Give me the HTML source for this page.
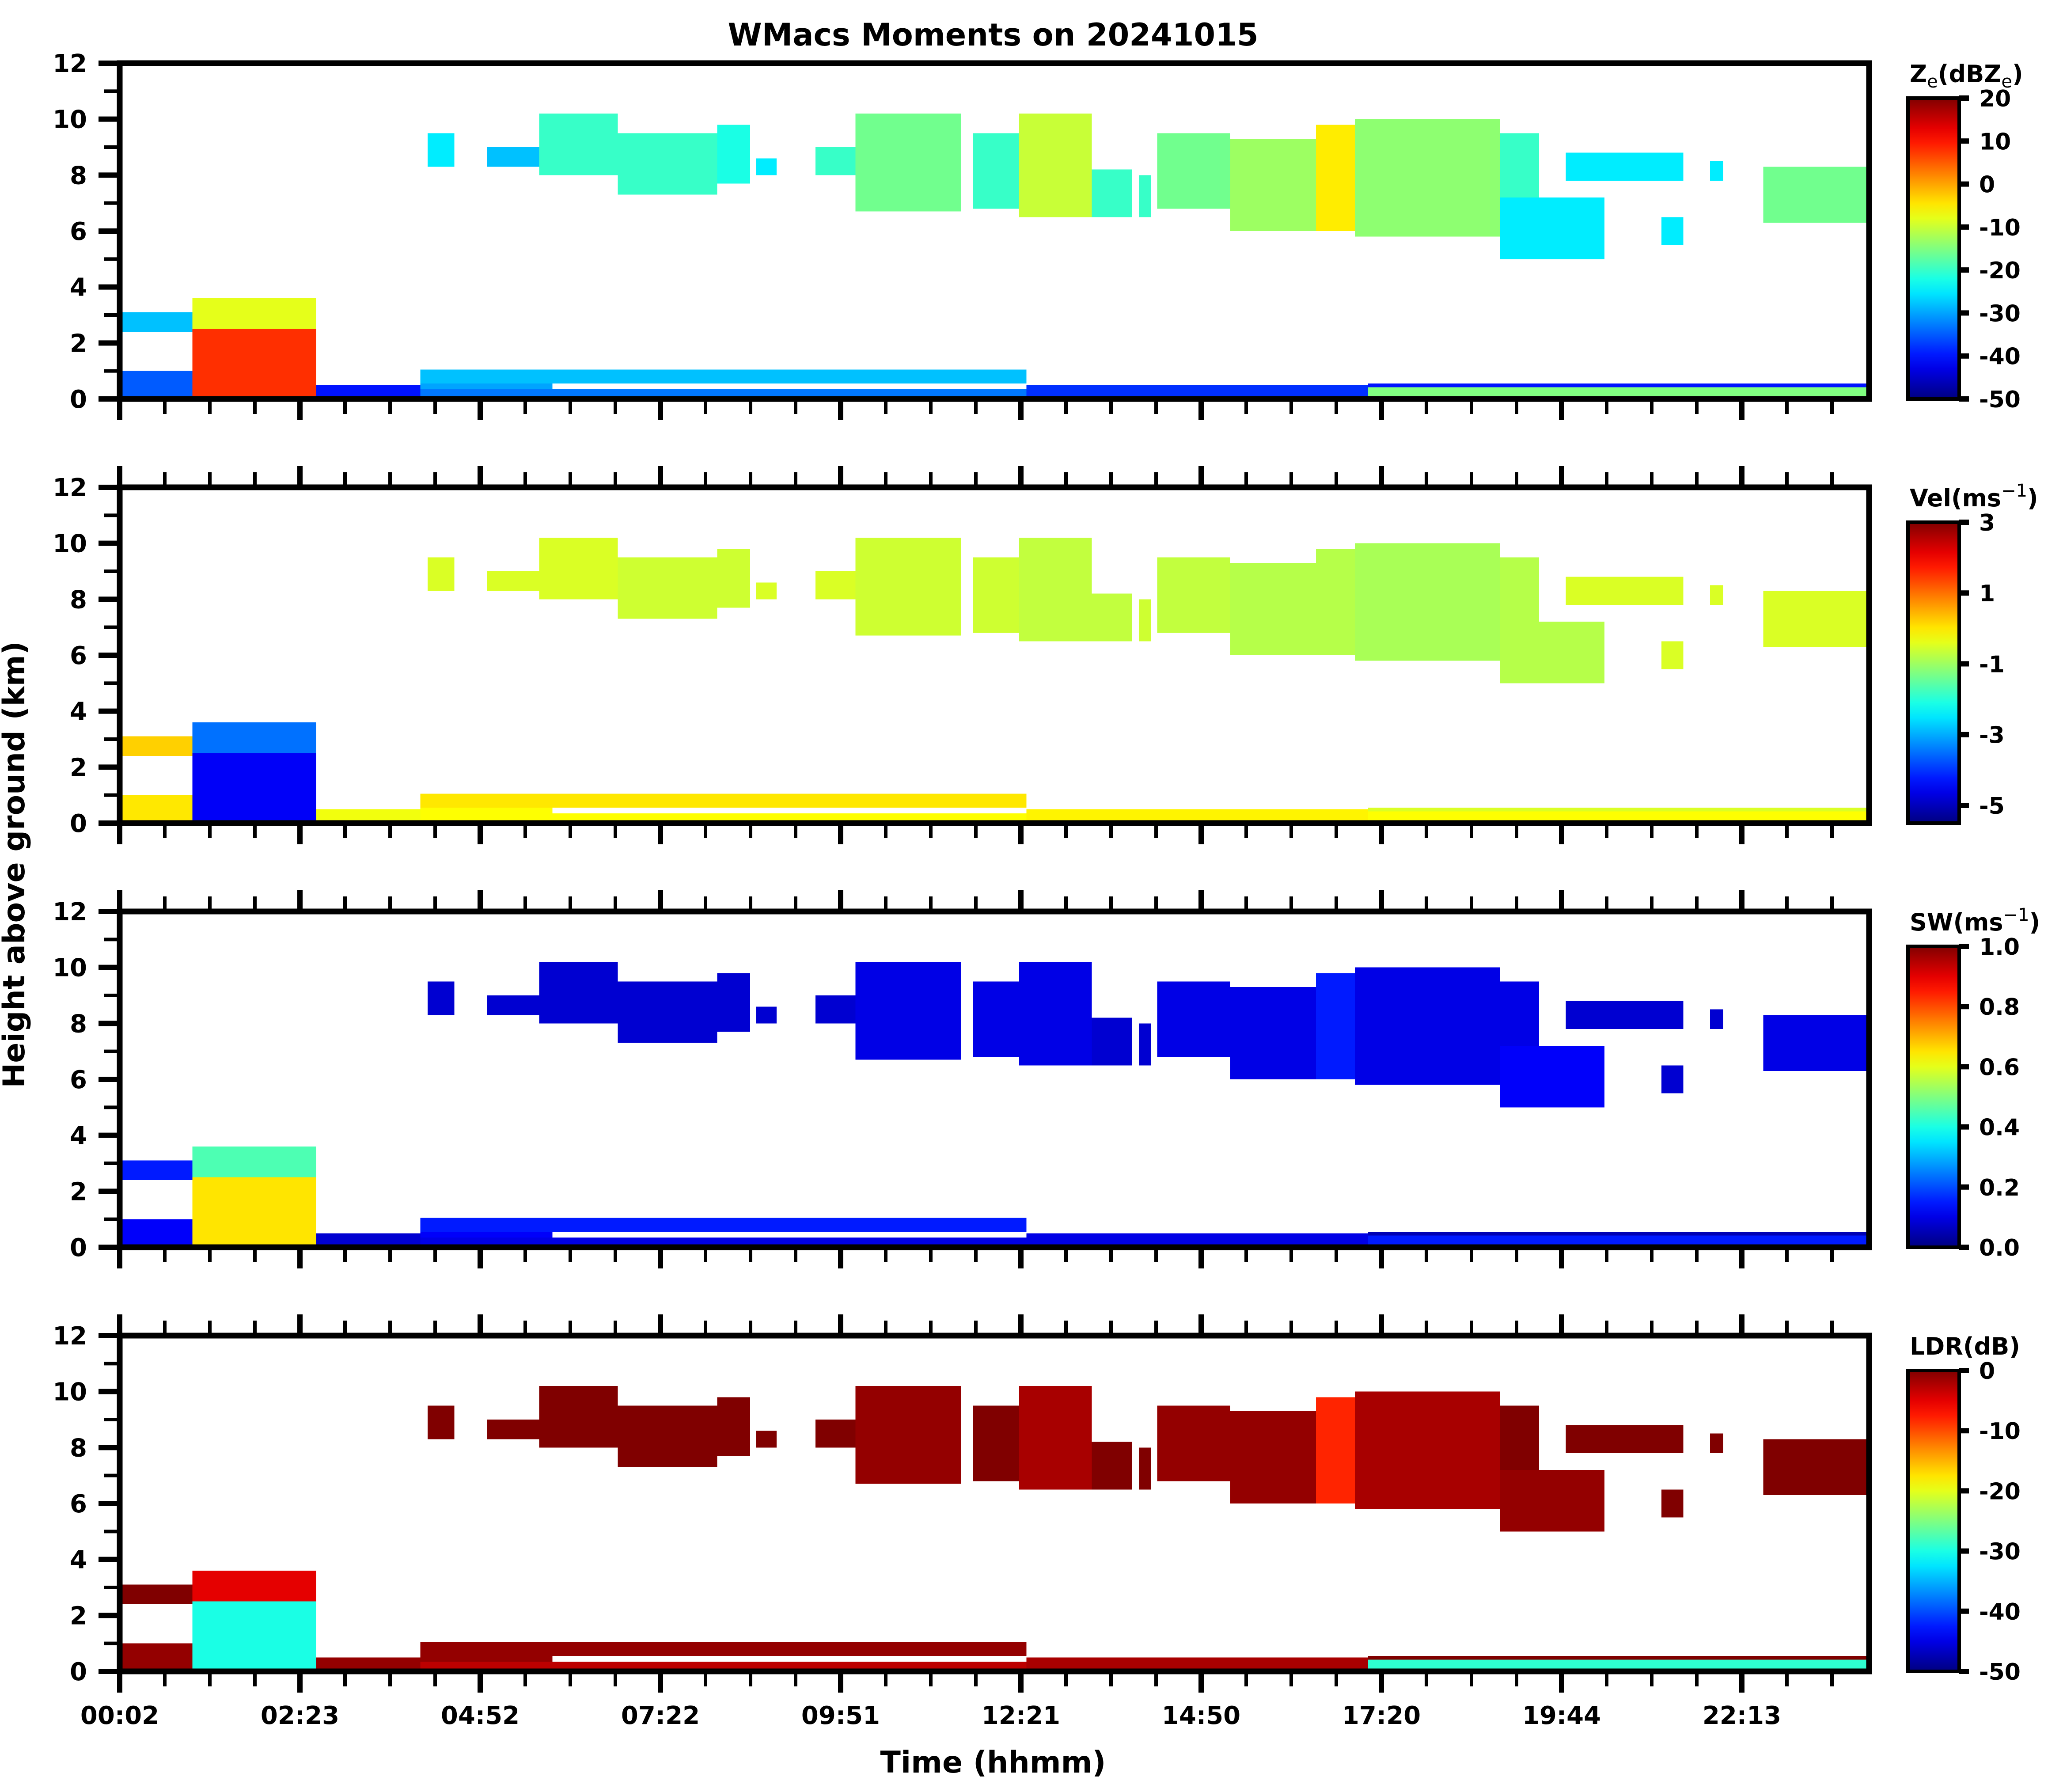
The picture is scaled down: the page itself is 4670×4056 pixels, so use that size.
<!DOCTYPE html>
<html><head><meta charset="utf-8"><style>
html,body{margin:0;padding:0;background:#fff;}
svg{display:block;font-family:"DejaVu Sans","Liberation Sans",sans-serif;font-weight:bold;}
</style></head><body>
<svg id="fig" xmlns="http://www.w3.org/2000/svg" width="4670" height="4056" viewBox="0 0 4670 4056">
<rect width="4670" height="4056" fill="#fff"/>
<text x="2248" y="103" font-size="70" text-anchor="middle">WMacs Moments on 20241015</text>
<text x="2248" y="4012" font-size="68" text-anchor="middle">Time (hhmm)</text>
<text transform="translate(55,1957) rotate(-90)" font-size="68" text-anchor="middle">Height above ground (km)</text>
<g id="plots"></g>
</svg>
<script>
// ---- data (time in minutes, height in km) ----
const cloudT0   = [4, 4, 62, 62, 164, 250, 250, 250, 750, 1032, 1032, 256, 305, 348, 413, 495, 527, 576, 609, 706, 744, 804, 843, 858, 918, 989, 1021, 1141, 1141, 1195, 1274, 1314, 1358];
const cloudT1   = [62, 62, 164, 164, 250, 750, 750, 359, 1032, 1444, 1444, 278, 348, 413, 495, 522, 544, 609, 696, 744, 804, 837, 853, 918, 989, 1021, 1141, 1173, 1227, 1292, 1292, 1325, 1444];
const cloudBase = [0, 2.4, 0, 2.5, 0, 0.55, 0, 0.35, 0, 0, 0.42, 8.3, 8.3, 8.0, 7.3, 7.7, 8.0, 8.0, 6.7, 6.8, 6.5, 6.5, 6.5, 6.8, 6.0, 6.0, 5.8, 7.0, 5.0, 7.8, 5.5, 7.8, 6.3];
const cloudTop  = [1.0, 3.1, 2.5, 3.6, 0.5, 1.05, 0.35, 0.55, 0.5, 0.42, 0.55, 9.5, 9.0, 10.2, 9.5, 9.8, 8.6, 9.0, 10.2, 9.5, 10.2, 8.2, 8.0, 9.5, 9.3, 9.8, 10.0, 9.5, 7.2, 8.8, 6.5, 8.5, 8.3];
const zeVals    = [-35, -28, 8, -8, -40, -28, -33, -30, -38, -15, -40, -25, -28, -20, -20, -22, -25, -20, -16, -20, -10, -20, -20, -16, -13, -5, -14, -20, -25, -25, -25, -25, -16];
const velVals   = [0, 0.2, -4.5, -3.5, -0.3, 0, -0.2, -0.2, -0.1, -0.2, -0.5, -0.5, -0.5, -0.5, -0.6, -0.6, -0.5, -0.5, -0.6, -0.6, -0.7, -0.7, -0.6, -0.7, -0.8, -0.8, -0.9, -0.8, -0.8, -0.5, -0.5, -0.5, -0.5];
const swVals    = [0.12, 0.15, 0.65, 0.45, 0.08, 0.15, 0.1, 0.12, 0.1, 0.15, 0.05, 0.08, 0.08, 0.08, 0.08, 0.08, 0.08, 0.08, 0.1, 0.1, 0.1, 0.08, 0.08, 0.1, 0.1, 0.15, 0.1, 0.1, 0.12, 0.08, 0.08, 0.08, 0.1];
const ldrVals   = [-1, 0, -30, -5, -1, -1, -3, -1, -2, -29, 0, 0, 0, 0, 0, 0, 0, 0, -1, 0, -2, 0, 0, -1, -1, -8, -2, 0, -1, 0, 0, 0, 0];

const xTickLabels = ["00:02", "02:23", "04:52", "07:22", "09:51", "12:21", "14:50", "17:20", "19:44", "22:13"];
const yTickLabels = ["0", "2", "4", "6", "8", "10", "12"];
const zeTicks  = [20, 10, 0, -10, -20, -30, -40, -50];
const velTicks = [3, 1, -1, -3, -5];
const swTicks  = [1.0, 0.8, 0.6, 0.4, 0.2, 0.0];
const ldrTicks = [0, -10, -20, -30, -40, -50];

// ---- layout ----
const AX_L = 271, AX_R = 4231, AX_H = 760;
const AX_TOPS = [143, 1103, 2063, 3023];
const T0 = 2, TSTEP = 148.7, TICKPX = 408;
const CB_L = 4319, CB_R = 4435;
const NS = "http://www.w3.org/2000/svg";
const root = document.getElementById("plots");

function xs(t) { return AX_L + (t - T0) / TSTEP * TICKPX; }
function ys(h, top) { return top + AX_H - h / 12 * AX_H; }
function jet(v) {
  const c = x => Math.max(0, Math.min(1, x));
  const r = c(1.5 - Math.abs(4 * v - 3)), g = c(1.5 - Math.abs(4 * v - 2)), b = c(1.5 - Math.abs(4 * v - 1));
  return "rgb(" + Math.round(r * 255) + "," + Math.round(g * 255) + "," + Math.round(b * 255) + ")";
}
function mk(tag, attrs, parent) {
  const e = document.createElementNS(NS, tag);
  for (const k in attrs) e.setAttribute(k, attrs[k]);
  (parent || root).appendChild(e);
  return e;
}

const panels = [
  {key: "ze", vals: zeVals, lo: -50, hi: 20, ticks: zeTicks, fmt: v => String(v), title: 'Z<tspan font-size="40" font-weight="normal" dy="12">e</tspan><tspan dy="-12">(dBZ</tspan><tspan font-size="40" font-weight="normal" dy="12">e</tspan><tspan dy="-12">)</tspan>'},
  {key: "vel", vals: velVals, lo: -5.5, hi: 3, ticks: velTicks, fmt: v => String(v), title: 'Vel(ms<tspan font-size="40" font-weight="normal" dy="-22">−1</tspan><tspan dy="22">)</tspan>'},
  {key: "sw", vals: swVals, lo: 0, hi: 1, ticks: swTicks, fmt: v => v.toFixed(1), title: 'SW(ms<tspan font-size="40" font-weight="normal" dy="-22">−1</tspan><tspan dy="22">)</tspan>'},
  {key: "ldr", vals: ldrVals, lo: -50, hi: 0, ticks: ldrTicks, fmt: v => String(v), title: 'LDR(dB)'}
];

const defs = mk("defs", {});
const grad = mk("linearGradient", {id: "jetgrad", x1: "0", y1: "1", x2: "0", y2: "0"}, defs);
for (let i = 0; i <= 20; i++) {
  mk("stop", {offset: i / 20, "stop-color": jet(i / 20)}, grad);
}

panels.forEach((p, pi) => {
  const top = AX_TOPS[pi], bot = top + AX_H;
  const g = mk("g", {});
  
  
  const cg = mk("g", {"shape-rendering": "crispEdges"}, g);
  
  
  for (let i = 0; i < cloudT0.length; i++) {
    const x0 = Math.max(AX_L, xs(cloudT0[i])), x1 = Math.min(AX_R, xs(cloudT1[i]));
    const y0 = ys(cloudTop[i], top), y1 = ys(cloudBase[i], top);
    const v = (p.vals[i] - p.lo) / (p.hi - p.lo);
    const r = mk("rect", {x: x0, y: y0, width: Math.max(0, x1 - x0), height: y1 - y0, fill: jet(Math.max(0, Math.min(1, v)))}, cg);
    
    
  }
  for (let k = 0; k <= 12; k++) {
    const y = ys(k, top);
    const major = k % 2 === 0;
    const tl = mk("line", {x1: AX_L - (major ? 48 : 36), x2: AX_L, y1: y, y2: y, stroke: "#000", "stroke-width": major ? 12 : 8}, g);
    
    
    if (major) {
      const t = mk("text", {x: 197, y: y + 20, "font-size": 56, "text-anchor": "end"}, g);
      t.textContent = yTickLabels[k / 2];
      
      
    }
  }
  for (let k = 0; k * TSTEP / 4 + T0 <= T0 + 9.72 * TSTEP; k++) {
    const x = xs(T0 + k * TSTEP / 4);
    const major = k % 4 === 0;
    const len = major ? 48 : 34;
    const bl = mk("line", {x1: x, x2: x, y1: bot, y2: bot + len, stroke: "#000", "stroke-width": major ? 12 : 8}, g);
    
    
    if (pi > 0) {
      const tl = mk("line", {x1: x, x2: x, y1: top - len, y2: top, stroke: "#000", "stroke-width": major ? 12 : 8}, g);
      
      
    }
    if (major && pi === 3) {
      const t = mk("text", {x: x, y: 3902, "font-size": 56, "text-anchor": "middle"}, g);
      t.textContent = xTickLabels[k / 4];
      
      
    }
  }
  const sp = mk("rect", {x: AX_L, y: top, width: AX_R - AX_L, height: AX_H, fill: "none", stroke: "#000", "stroke-width": 13}, g);
  
  
  const cbTop = top + 79;
  const cb = mk("rect", {x: CB_L, y: cbTop, width: CB_R - CB_L, height: bot - cbTop, fill: "url(#jetgrad)", stroke: "#000", "stroke-width": 8}, g);
  
  
  p.ticks.forEach(v => {
    const y = bot - (v - p.lo) / (p.hi - p.lo) * (bot - cbTop);
    const l = mk("line", {x1: CB_R, x2: CB_R + 22, y1: y, y2: y, stroke: "#000", "stroke-width": 12}, g);
    
    
    const t = mk("text", {x: 4480, y: y + 19, "font-size": 52}, g);
    t.textContent = p.fmt(v);
    
    
  });
  const ct = mk("text", {x: 4323, y: top + 43, "font-size": 54}, g);
  ct.innerHTML = p.title;
  
  
});
</script>
</body></html>
